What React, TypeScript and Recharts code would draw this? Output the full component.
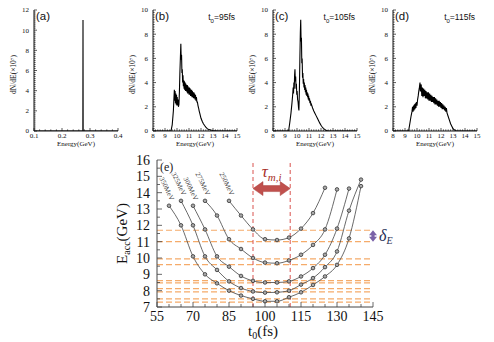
import React from 'react';
import { LineChart, Line, XAxis, YAxis, ReferenceLine, LabelList } from 'recharts';

const SERIF = '"Liberation Serif", "DejaVu Serif", serif';
const SANS = '"Liberation Sans", Arial, sans-serif';

// ---- top row: electron spectra, [energy GeV, dN/dE] ----
const spectrumA: [number, number][] = [
  [0.1, 0], [0.2745, 0], [0.275, 11], [0.2755, 0], [0.4, 0],
];

const spectrumB: [number, number][] = [
  [8, 0], [9.5, 0], [9.6, 0.5], [9.66, 1.2], [9.7, 1.7], [9.74, 2.6], [9.78, 3.4], [9.81, 2.5], [9.84, 3.3],
  [9.87, 2.3], [9.9, 3.1], [9.93, 2.2], [9.96, 3.0], [9.99, 2.1], [10.02, 2.8], [10.05, 2.1], [10.08, 2.6],
  [10.12, 2.0], [10.16, 2.2], [10.2, 3.2], [10.24, 4.8], [10.28, 6.0], [10.32, 7.2], [10.35, 5.9], [10.38, 6.3],
  [10.41, 4.8], [10.44, 5.1], [10.47, 4.0], [10.5, 4.6], [10.53, 3.7], [10.56, 4.2], [10.59, 3.5], [10.62, 4.1],
  [10.65, 3.4], [10.68, 4.0], [10.71, 3.3], [10.74, 3.9], [10.77, 3.3], [10.8, 3.8], [10.83, 3.2], [10.86, 3.8],
  [10.89, 3.1], [10.92, 3.7], [10.95, 3.1], [10.98, 3.6], [11.01, 3.0], [11.04, 3.6], [11.07, 3.0], [11.1, 3.5],
  [11.13, 2.9], [11.16, 3.4], [11.19, 2.9], [11.22, 3.4], [11.25, 2.8], [11.28, 3.3], [11.31, 2.8], [11.34, 3.2],
  [11.37, 2.7], [11.4, 3.2], [11.43, 2.7], [11.46, 3.1], [11.5, 2.6], [11.54, 3.0], [11.58, 2.5], [11.62, 2.8],
  [11.66, 2.4], [11.7, 2.4], [11.75, 2.1], [11.8, 1.9], [11.85, 1.65], [11.9, 1.45], [11.95, 1.25], [12.0, 1.05],
  [12.1, 0.8], [12.2, 0.6], [12.3, 0.45], [12.4, 0.32], [12.5, 0.22], [12.6, 0.15], [12.8, 0.08], [13.0, 0.04],
  [13.3, 0.01], [13.6, 0], [15, 0],
];

const spectrumC: [number, number][] = [
  [8, 0], [9.3, 0], [9.4, 0.7], [9.5, 1.5], [9.58, 2.3], [9.64, 3.0], [9.68, 3.6], [9.71, 3.1], [9.74, 4.0],
  [9.77, 3.5], [9.8, 4.6], [9.83, 5.1], [9.86, 4.1], [9.89, 4.5], [9.92, 3.5], [9.95, 3.9], [9.98, 3.0],
  [10.01, 3.3], [10.05, 2.6], [10.09, 2.4], [10.13, 1.9], [10.16, 1.7], [10.2, 3.4], [10.24, 6.0], [10.28, 8.2],
  [10.31, 9.2], [10.34, 7.4], [10.37, 7.7], [10.4, 5.6], [10.43, 6.0], [10.46, 4.4], [10.49, 4.8], [10.52, 3.9],
  [10.55, 4.3], [10.58, 3.6], [10.61, 4.0], [10.64, 3.4], [10.67, 3.8], [10.7, 3.2], [10.73, 3.6], [10.76, 3.0],
  [10.79, 3.4], [10.82, 2.9], [10.85, 3.2], [10.88, 2.8], [10.91, 3.1], [10.94, 2.6], [10.97, 2.9], [11.0, 2.5],
  [11.04, 2.7], [11.08, 2.3], [11.12, 2.5], [11.16, 2.1], [11.2, 2.2], [11.3, 1.9], [11.4, 1.65], [11.5, 1.45],
  [11.6, 1.25], [11.7, 1.05], [11.8, 0.85], [11.9, 0.65], [12.0, 0.48], [12.1, 0.33], [12.2, 0.22], [12.3, 0.13],
  [12.4, 0.07], [12.55, 0.02], [12.7, 0], [15, 0],
];

const spectrumD: [number, number][] = [
  [8, 0], [9.3, 0], [9.4, 0.6], [9.5, 1.2], [9.58, 1.6], [9.63, 2.0], [9.67, 1.6], [9.71, 2.1], [9.75, 1.7],
  [9.79, 2.2], [9.83, 1.8], [9.87, 2.3], [9.91, 1.9], [9.95, 2.4], [10.0, 2.1], [10.05, 2.6], [10.1, 2.9],
  [10.15, 3.3], [10.2, 3.6], [10.25, 4.0], [10.28, 3.3], [10.3, 3.3], [10.35, 3.85], [10.4, 2.9], [10.45, 3.6],
  [10.5, 2.8], [10.55, 3.5], [10.6, 2.9], [10.65, 3.4], [10.7, 2.7], [10.75, 3.3], [10.8, 2.7], [10.85, 3.2],
  [10.9, 2.6], [10.95, 3.2], [11.0, 2.5], [11.05, 3.1], [11.1, 2.5], [11.15, 3.0], [11.2, 2.4], [11.25, 2.9],
  [11.3, 2.4], [11.35, 2.8], [11.4, 2.3], [11.45, 2.8], [11.5, 2.2], [11.55, 2.7], [11.6, 2.2], [11.65, 2.6],
  [11.7, 2.1], [11.75, 2.5], [11.8, 2.0], [11.85, 2.5], [11.9, 2.0], [11.95, 2.4], [12.0, 1.9], [12.05, 2.3],
  [12.1, 1.8], [12.15, 2.2], [12.2, 1.8], [12.25, 2.1], [12.3, 1.7], [12.35, 2.0], [12.4, 1.6], [12.45, 1.9],
  [12.5, 1.5], [12.6, 1.2], [12.7, 0.9], [12.8, 0.6], [12.9, 0.4], [13.0, 0.2], [13.1, 0.1], [13.2, 0.04],
  [13.3, 0], [15, 0],
];

// ---- panel (e): accelerated energy vs injection time, one curve per laser energy ----
const curveNames = ['350MeV', '325MeV', '300MeV', '275MeV', '250MeV'];
const t350 = [60, 65, 70, 75, 80, 85, 90, 95, 100, 105, 110, 115, 120, 125, 130, 135, 140];
const e350 = [13.2, 12.0, 10.1, 9.0, 8.45, 8.0, 7.7, 7.5, 7.35, 7.35, 7.6, 7.9, 8.35, 8.87, 9.58, 11.2, 14.4];
const t325 = [65, 70, 75, 80, 85, 90, 95, 100, 105, 110, 115, 120, 125, 130, 135, 140];
const e325 = [13.5, 12.0, 10.1, 9.27, 8.57, 8.16, 7.95, 7.88, 7.9, 8.0, 8.37, 8.77, 9.44, 10.4, 12.9, 14.8];
const t300 = [70, 75, 80, 85, 90, 95, 100, 105, 110, 115, 120, 125, 130, 135];
const e300 = [13.2, 11.75, 10.1, 9.47, 8.9, 8.6, 8.5, 8.5, 8.57, 8.87, 9.38, 10.2, 11.8, 14.25];
const t275 = [75, 80, 85, 90, 95, 100, 105, 110, 115, 120, 125, 130];
const e275 = [13.5, 12.6, 11.15, 10.55, 10.0, 9.72, 9.68, 9.85, 10.2, 10.8, 11.75, 14.2];
const t250 = [85, 90, 95, 100, 105, 110, 115, 120, 125];
const e250 = [13.5, 12.6, 11.75, 11.15, 11.1, 11.25, 11.8, 12.75, 14.3];

const orangeLevels = [11.7, 11.0, 9.95, 9.6, 8.62, 8.48, 8.12, 7.92, 7.5, 7.3];
const tauWindow = [95, 110.5];
const tauArrowLevel = 14.25;
const deltaRange = [11.0, 11.7];

const range = (a: number, b: number, step: number) => {
  const out: number[] = [];
  const n = Math.round((b - a) / step);
  for (let i = 0; i <= n; i++) out.push(+(a + i * step).toFixed(4));
  return out;
};

type Side = 'bottom' | 'top' | 'left' | 'right';

function tickRenderer(
  side: Side,
  majors: number[],
  majorLen: number,
  minorLen: number,
  opts: { show?: boolean; fontSize?: number; gap?: number; fmt?: (v: number) => string; color?: string; width?: number } = {}
) {
  const { show = false, fontSize = 7, gap = 4, fmt = (v: number) => String(v), color = '#111', width = 0.7 } = opts;
  return (props: any) => {
    const { x, y, payload } = props;
    const v = payload.value as number;
    const isMajor = majors.some((m) => Math.abs(m - v) < 1e-6);
    const len = isMajor ? majorLen : minorLen;
    const dx = side === 'left' ? len : side === 'right' ? -len : 0;
    const dy = side === 'bottom' ? -len : side === 'top' ? len : 0;
    let label = null;
    if (show && isMajor) {
      if (side === 'bottom') {
        label = (
          <text x={x} y={y + gap} textAnchor="middle" fontSize={fontSize} fontFamily={SERIF} fill="#111">
            {fmt(v)}
          </text>
        );
      } else if (side === 'left') {
        label = (
          <text x={x - gap} y={y} dy="0.35em" textAnchor="end" fontSize={fontSize} fontFamily={SERIF} fill="#111">
            {fmt(v)}
          </text>
        );
      }
    }
    return (
      <g>
        <line x1={x} y1={y} x2={x + dx} y2={y + dy} stroke={color} strokeWidth={width} />
        {label}
      </g>
    );
  };
}

type PanelProps = {
  left: number;
  data: [number, number][];
  xMin: number;
  xMax: number;
  xMajor: number[];
  xMinorStep: number;
  yMax: number;
  yMajor: number[];
  tag: string;
  time?: string;
  xFmt?: (v: number) => string;
};

function SpectrumPanel(p: PanelProps) {
  const rows = p.data.map(([x, y]) => ({ x, y }));
  const xTicks = range(p.xMin, p.xMax, p.xMinorStep);
  const yTicks = range(0, p.yMax, 0.2);
  const ink = '#111';
  return (
    <div style={{ position: 'absolute', left: p.left - 34, top: 0, width: 124, height: 150 }}>
      <LineChart width={124} height={150} margin={{ top: 10, right: 6, bottom: 0, left: 0 }}>
        <XAxis
          xAxisId="b" type="number" dataKey="x" domain={[p.xMin, p.xMax]} allowDataOverflow
          ticks={xTicks} interval={0} height={19} tickSize={0} tickMargin={0} tickLine={false}
          stroke={ink} strokeWidth={1}
          tick={tickRenderer('bottom', p.xMajor, 3, 1.6, { show: true, fontSize: 7, gap: 7, fmt: p.xFmt })}
          label={{
            content: (lp: any) => {
              const vb = lp.viewBox;
              return (
                <text x={vb.x + vb.width / 2} y={vb.y + 15} textAnchor="middle" fontSize={7} fontFamily={SERIF} fill="#111">
                  Energy(GeV)
                </text>
              );
            },
          }}
        />
        <XAxis
          xAxisId="t" orientation="top" type="number" dataKey="x" domain={[p.xMin, p.xMax]} allowDataOverflow
          ticks={xTicks} interval={0} height={0} tickSize={0} tickMargin={0} tickLine={false}
          stroke={ink} strokeWidth={1} tick={tickRenderer('top', p.xMajor, 3, 1.6)}
        />
        <YAxis
          yAxisId="l" type="number" domain={[0, p.yMax]} allowDataOverflow ticks={yTicks} interval={0}
          width={34} tickSize={0} tickMargin={0} tickLine={false} stroke={ink} strokeWidth={1}
          tick={tickRenderer('left', p.yMajor, 3, 1.6, { show: true, fontSize: 7, gap: 5 })}
          label={{
            content: (lp: any) => {
              const vb = lp.viewBox;
              const cx = vb.x + 13;
              const cy = vb.y + vb.height / 2 + 4;
              return (
                <text x={cx} y={cy} transform={`rotate(-90, ${cx}, ${cy})`} textAnchor="middle" dy="0.35em"
                  fontSize={7.5} fontFamily={SERIF} fill="#111">
                  dN/dE(×10⁷)
                </text>
              );
            },
          }}
        />
        <YAxis
          yAxisId="r" orientation="right" type="number" domain={[0, p.yMax]} allowDataOverflow ticks={yTicks}
          interval={0} width={0} tickSize={0} tickMargin={0} tickLine={false} stroke={ink} strokeWidth={1}
          tick={tickRenderer('right', p.yMajor, 3, 1.6)}
        />
        <Line
          xAxisId="b" yAxisId="l" data={rows} dataKey="y" type="linear" stroke="#000" strokeWidth={1.1}
          dot={false} isAnimationActive={false}
        />
      </LineChart>
      <div style={{ position: 'absolute', left: 36, top: 10, fontFamily: SANS, fontSize: 11.5, color: '#111' }}>{p.tag}</div>
      {p.time && (
        <div style={{ position: 'absolute', right: 8, top: 12, fontFamily: SANS, fontSize: 8.5, color: '#111', whiteSpace: 'nowrap' }}>
          t<sub style={{ fontSize: 6 }}>0</sub>={p.time}
        </div>
      )}
    </div>
  );
}

const curveLabel = (name: string) => (lp: any) => {
  if (lp.index !== 0) return null;
  const cx = lp.x - 2;
  const cy = lp.y - 17;
  return (
    <text x={cx} y={cy} transform={`rotate(64, ${cx}, ${cy})`} textAnchor="middle" dy="0.35em"
      fontSize={7} fontFamily={SERIF} fill="#444">
      {name}
    </text>
  );
};

const tauArrow = (sp: any) => {
  const { x1, x2, y1 } = sp;
  const h = 3;
  const H = 7;
  const head = 10;
  const pts = [
    [x1, y1], [x1 + head, y1 - H], [x1 + head, y1 - h], [x2 - head, y1 - h], [x2 - head, y1 - H],
    [x2, y1], [x2 - head, y1 + H], [x2 - head, y1 + h], [x1 + head, y1 + h], [x1 + head, y1 + H],
  ].map((q) => q.join(',')).join(' ');
  return (
    <g>
      <polygon points={pts} fill="#c0504d" stroke="#a8403d" strokeWidth={0.5} />
      <text x={(x1 + x2) / 2} y={y1 - 12} textAnchor="middle" fontFamily={SERIF} fontStyle="italic" fontSize={17} fill="#a8302a">
        τ<tspan fontSize={11} dy={4}>m,i</tspan>
      </text>
    </g>
  );
};

const deltaArrow = (sp: any) => {
  const { x1, y1, y2 } = sp;
  const top = Math.min(y1, y2);
  const bot = Math.max(y1, y2);
  const w = 4;
  const hd = 5;
  const pts = [
    [x1, top], [x1 + w, top + hd], [x1 + 1.6, top + hd], [x1 + 1.6, bot - hd], [x1 + w, bot - hd],
    [x1, bot], [x1 - w, bot - hd], [x1 - 1.6, bot - hd], [x1 - 1.6, top + hd], [x1 - w, top + hd],
  ].map((q) => q.join(',')).join(' ');
  return (
    <g>
      <polygon points={pts} fill="#7a62a8" />
      <text x={x1 + 6} y={(top + bot) / 2 + 5} fontFamily={SERIF} fontStyle="italic" fontSize={16} fill="#1f2f55">
        δ<tspan fontSize={10} dy={3}>E</tspan>
      </text>
    </g>
  );
};

function MainPanel() {
  const series = [
    { name: curveNames[0], t: t350, e: e350 },
    { name: curveNames[1], t: t325, e: e325 },
    { name: curveNames[2], t: t300, e: e300 },
    { name: curveNames[3], t: t275, e: e275 },
    { name: curveNames[4], t: t250, e: e250 },
  ];
  const xMajor = [55, 70, 85, 100, 115, 130, 145];
  const xTicks = range(55, 145, 5);
  const yMajor = range(7, 16, 1);
  const yTicks = range(7, 16, 0.5);
  const ink = '#444';
  return (
    <div style={{ position: 'absolute', left: 0, top: 140, width: 494, height: 202 }}>
      <LineChart width={494} height={202} margin={{ top: 20, right: 121, bottom: 0, left: 117 }}>
        <XAxis
          xAxisId="b" type="number" dataKey="x" domain={[55, 145]} allowDataOverflow ticks={xTicks} interval={0}
          height={35} tickSize={0} tickMargin={0} tickLine={false} stroke={ink} strokeWidth={1}
          tick={tickRenderer('bottom', xMajor, 5, 3, { show: true, fontSize: 14, gap: 14, color: ink, width: 0.8 })}
          label={{
            content: (lp: any) => {
              const vb = lp.viewBox;
              return (
                <text x={vb.x + vb.width / 2 - 2} y={vb.y + 29} textAnchor="middle" fontSize={15} fontFamily={SERIF} fill="#111">
                  t<tspan fontSize={10} dy={3}>0</tspan><tspan dy={-3}>(fs)</tspan>
                </text>
              );
            },
          }}
        />
        <XAxis
          xAxisId="t" orientation="top" type="number" dataKey="x" domain={[55, 145]} allowDataOverflow ticks={xTicks}
          interval={0} height={0} tickSize={0} tickMargin={0} tickLine={false} stroke={ink} strokeWidth={1}
          tick={tickRenderer('top', xMajor, 5, 3, { color: ink, width: 0.8 })}
        />
        <YAxis
          yAxisId="l" type="number" domain={[7, 16]} allowDataOverflow ticks={yTicks} interval={0} width={40}
          tickSize={0} tickMargin={0} tickLine={false} stroke={ink} strokeWidth={1}
          tick={tickRenderer('left', yMajor, 5, 3, { show: true, fontSize: 14, gap: 7, color: ink, width: 0.8 })}
          label={{
            content: (lp: any) => {
              const vb = lp.viewBox;
              const cx = vb.x + 5;
              const cy = vb.y + vb.height / 2;
              return (
                <text x={cx} y={cy} transform={`rotate(-90, ${cx}, ${cy})`} textAnchor="middle" dy="0.35em"
                  fontSize={15} fontFamily={SERIF} fill="#111">
                  E<tspan fontSize={10} dy={3}>acc</tspan><tspan dy={-3}>(GeV)</tspan>
                </text>
              );
            },
          }}
        />
        <YAxis
          yAxisId="r" orientation="right" type="number" domain={[7, 16]} allowDataOverflow ticks={yTicks} interval={0}
          width={0} tickSize={0} tickMargin={0} tickLine={false} stroke={ink} strokeWidth={1}
          tick={tickRenderer('right', yMajor, 5, 3, { color: ink, width: 0.8 })}
        />
        {orangeLevels.map((lv) => (
          <ReferenceLine key={lv} xAxisId="b" yAxisId="l" y={lv} stroke="#f5ab6a" strokeWidth={1.2} strokeDasharray="6 3" />
        ))}
        {tauWindow.map((tv) => (
          <ReferenceLine key={tv} xAxisId="b" yAxisId="l" x={tv} stroke="#d9534f" strokeWidth={1} strokeDasharray="4 3" />
        ))}
        <ReferenceLine
          xAxisId="b" yAxisId="l" ifOverflow="visible"
          segment={[{ x: tauWindow[0], y: tauArrowLevel }, { x: tauWindow[1], y: tauArrowLevel }]}
          shape={tauArrow}
        />
        <ReferenceLine
          xAxisId="b" yAxisId="l" ifOverflow="visible"
          segment={[{ x: 145, y: deltaRange[0] }, { x: 145, y: deltaRange[1] }]}
          shape={deltaArrow}
        />
        {series.map((s) => (
          <Line
            key={s.name} xAxisId="b" yAxisId="l" data={s.t.map((x, i) => ({ x, y: s.e[i] }))} dataKey="y"
            type="monotone" stroke="#444" strokeWidth={0.8} isAnimationActive={false}
            dot={{ r: 1.8, fill: '#aaa', stroke: '#333', strokeWidth: 0.8 }}
          >
            <LabelList dataKey="y" content={curveLabel(s.name)} />
          </Line>
        ))}
      </LineChart>
      <div style={{ position: 'absolute', left: 160, top: 20, fontFamily: SERIF, fontSize: 12, color: '#222' }}>(e)</div>
    </div>
  );
}

export default function App() {
  return (
    <div style={{ position: 'absolute', left: 0, top: 0, width: 494, height: 342, background: '#fff', overflow: 'hidden' }}>
      <SpectrumPanel
        left={34} data={spectrumA} xMin={0.1} xMax={0.4} xMajor={[0.1, 0.2, 0.3, 0.4]} xMinorStep={0.02}
        yMax={12} yMajor={[0, 2, 4, 6, 8, 10, 12]} tag="(a)" xFmt={(v) => v.toFixed(1)}
      />
      <SpectrumPanel
        left={153} data={spectrumB} xMin={8} xMax={15} xMajor={range(8, 15, 1)} xMinorStep={0.2}
        yMax={10} yMajor={[0, 2, 4, 6, 8, 10]} tag="(b)" time="95fs"
      />
      <SpectrumPanel
        left={273} data={spectrumC} xMin={8} xMax={15} xMajor={range(8, 15, 1)} xMinorStep={0.2}
        yMax={10} yMajor={[0, 2, 4, 6, 8, 10]} tag="(c)" time="105fs"
      />
      <SpectrumPanel
        left={393} data={spectrumD} xMin={8} xMax={15} xMajor={range(8, 15, 1)} xMinorStep={0.2}
        yMax={10} yMajor={[0, 2, 4, 6, 8, 10]} tag="(d)" time="115fs"
      />
      <MainPanel />
    </div>
  );
}
